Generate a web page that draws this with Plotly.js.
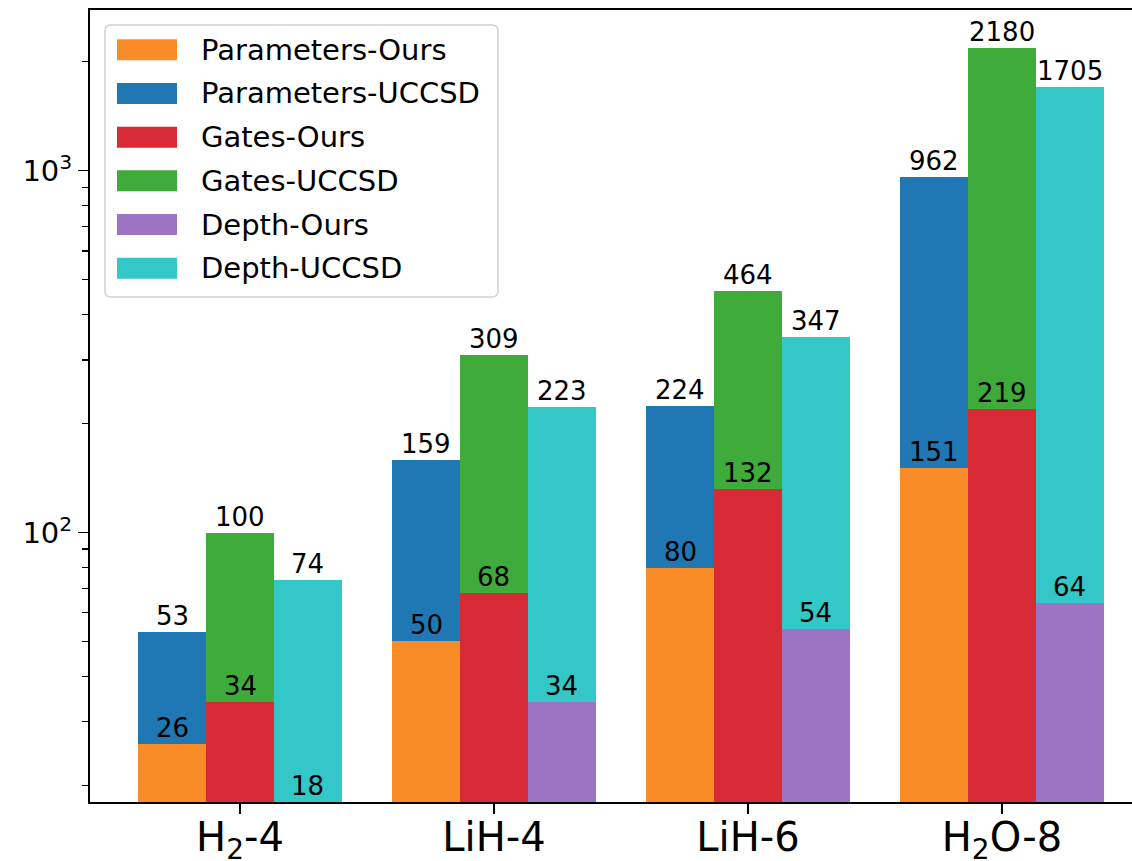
<!DOCTYPE html>
<html>
<head>
<meta charset="utf-8">
<script src="https://cdn.plot.ly/plotly-3.0.1.min.js"></script>
<style>html,body{margin:0;padding:0;background:#fff;}#chart{width:1132px;height:861px;}</style>
</head>
<body>
<div id="chart"></div>
<script>
// ---- data ----
const categories = ["H<sub>2</sub>-4", "LiH-4", "LiH-6", "H<sub>2</sub>O-8"];
const paramsOurs  = [26, 50, 80, 151];
const paramsUCCSD = [53, 159, 224, 962];
const gatesOurs   = [34, 68, 132, 219];
const gatesUCCSD  = [100, 309, 464, 2180];
const depthOurs   = [18, 34, 54, 64];
const depthUCCSD  = [74, 223, 347, 1705];
const yTickVals = [100, 1000];
const yTickText = ["10<sup>2</sup>", "10<sup>3</sup>"];
const yMinorVals = [20,30,40,50,60,70,80,90,200,300,400,500,600,700,800,900,2000];

// ---- style ----
const FONT = "DejaVu Sans, Verdana, sans-serif";
const colors = {
  pO: "#fa8c28", pU: "#1f77b4",
  gO: "#d92b36", gU: "#3fab3a",
  dO: "#9d74c4", dU: "#33c7c7"
};
const W = 0.8/3;
const offsets = {p: -0.4, g: -0.4 + W, d: -0.4 + 2*W};

const series = [
  {name: "Parameters-UCCSD", y: paramsUCCSD, c: colors.pU, off: offsets.p},
  {name: "Parameters-Ours",  y: paramsOurs,  c: colors.pO, off: offsets.p},
  {name: "Gates-UCCSD",      y: gatesUCCSD,  c: colors.gU, off: offsets.g},
  {name: "Gates-Ours",       y: gatesOurs,   c: colors.gO, off: offsets.g},
  {name: "Depth-UCCSD",      y: depthUCCSD,  c: colors.dU, off: offsets.d},
  {name: "Depth-Ours",       y: depthOurs,   c: colors.dO, off: offsets.d}
];

const traces = series.map(s => ({
  type: "bar", x: categories, y: s.y, name: s.name,
  width: W, offset: s.off,
  marker: {color: s.c, line: {width: 0}},
  showlegend: false, hoverinfo: "skip"
}));

const annotations = [];
series.forEach(s => {
  s.y.forEach((v, i) => {
    annotations.push({
      xref: "x", yref: "y", x: i + s.off + W/2, y: Math.log10(v),
      text: String(v), showarrow: false, xanchor: "center", yanchor: "bottom",
      borderpad: 0, font: {family: FONT, size: 26, color: "#000"}
    });
  });
});

// ---- custom legend (matplotlib style) ----
const L = 90, R = 1132, T = 10, B = 801.7;
const px = x => (x - L) / (R - L);
const py = y => (B - y) / (B - T);
const legendItems = [
  ["Parameters-Ours", colors.pO], ["Parameters-UCCSD", colors.pU],
  ["Gates-Ours", colors.gO], ["Gates-UCCSD", colors.gU],
  ["Depth-Ours", colors.dO], ["Depth-UCCSD", colors.dU]
];
const shapes = [];
// rounded legend frame
(function(){
  const x0 = 105, x1 = 498, y0 = 25, y1 = 297, r = 6;
  const p = (x, y) => px(x) + "," + py(y);
  const d = "M" + p(x0 + r, y0) + " L" + p(x1 - r, y0) + " Q" + p(x1, y0) + " " + p(x1, y0 + r) +
            " L" + p(x1, y1 - r) + " Q" + p(x1, y1) + " " + p(x1 - r, y1) +
            " L" + p(x0 + r, y1) + " Q" + p(x0, y1) + " " + p(x0, y1 - r) +
            " L" + p(x0, y0 + r) + " Q" + p(x0, y0) + " " + p(x0 + r, y0) + " Z";
  shapes.push({type: "path", xref: "paper", yref: "paper", path: d,
    fillcolor: "rgba(255,255,255,0.8)", line: {color: "#d0d0d0", width: 1.5}, layer: "above"});
})();
legendItems.forEach((it, k) => {
  const cy = 49.7 + k * 43.7;
  shapes.push({type: "rect", xref: "paper", yref: "paper",
    x0: px(117), x1: px(177), y0: py(cy + 10.5), y1: py(cy - 10.5),
    fillcolor: it[1], line: {width: 0}, layer: "above"});
  annotations.push({xref: "paper", yref: "paper", x: px(199), y: py(cy),
    xanchor: "left", yanchor: "middle", showarrow: false, text: it[0],
    font: {family: FONT, size: 29, color: "#000"}});
});

const layout = {
  width: 1132, height: 861, autosize: false,
  margin: {l: L, r: 1132 - R, t: T, b: 861 - B, pad: 0},
  paper_bgcolor: "#fff", plot_bgcolor: "#fff",
  barmode: "overlay", bargap: 0,
  font: {family: FONT, color: "#000"},
  xaxis: {
    type: "category", range: [-0.5906, 3.512],
    showline: true, linecolor: "#000", linewidth: 2, mirror: true,
    ticks: "outside", ticklen: 10, tickwidth: 1.5, tickcolor: "#000",
    ticklabelstandoff: -11,
    showgrid: false, zeroline: false,
    tickfont: {family: FONT, size: 40, color: "#000"}
  },
  yaxis: {
    type: "log", range: [1.2552, 3.4443],
    showline: true, linecolor: "#000", linewidth: 2,
    ticks: "outside", ticklen: 10, tickwidth: 1.5, tickcolor: "#000",
    tickmode: "array", tickvals: yTickVals, ticktext: yTickText,
    showgrid: false, zeroline: false,
    tickfont: {family: FONT, size: 29, color: "#000"},
    minor: {tickmode: "array", tickvals: yMinorVals, ticks: "outside",
            ticklen: 6, tickwidth: 1.2, tickcolor: "#000", showgrid: false}
  },
  shapes: shapes,
  annotations: annotations,
  showlegend: false
};

Plotly.newPlot("chart", traces, layout, {displayModeBar: false, staticPlot: true});
</script>
</body>
</html>
